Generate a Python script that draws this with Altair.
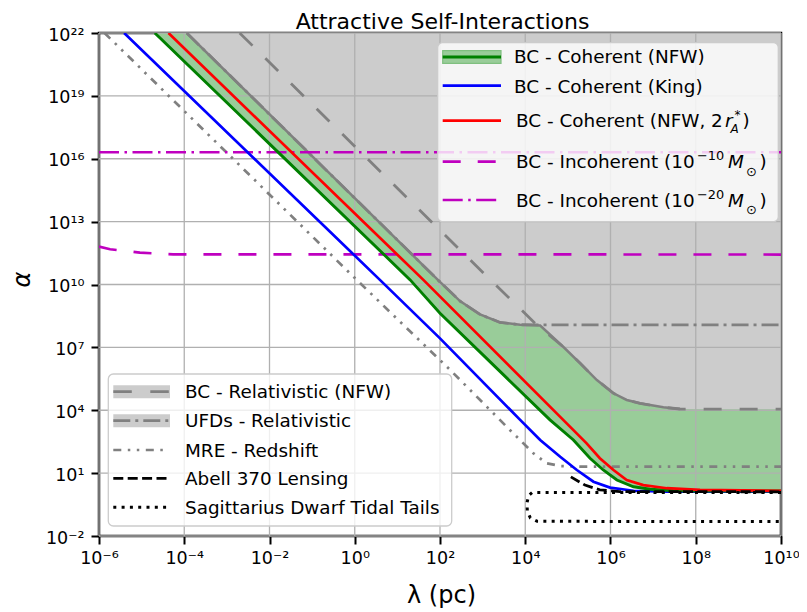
import altair as alt
import pandas as pd

FONT = "DejaVu Sans"
W, H = 682, 503
OX, OY = 99, 33  # plot-area origin on the page (for legend layout only)

# ---------------- data: log10(lambda [pc]) and log10(alpha) -------------
green_lx = [-4.69, 1.30, 2.00, 4.58, 5.13, 5.52, 5.83, 6.15, 6.54, 6.93, 7.47, 8.10, 10.0]
green_la = [22.0, 10.22, 8.63, 3.54, 2.58, 1.71, 1.15, 0.67, 0.35, 0.23, 0.16, 0.15, 0.15]

red_lx = [-4.37, 1.61, 4.89, 5.44, 5.75, 6.07, 6.38, 6.77, 7.32, 8.10, 10.0]
red_la = [22.0, 10.22, 3.54, 2.42, 1.71, 1.15, 0.67, 0.43, 0.28, 0.20, 0.15]

blue_lx = [-5.41, 0.59, 2.00, 3.88, 4.35, 4.82, 5.21, 5.60, 5.99, 6.54, 7.32, 10.0]
blue_la = [22.0, 10.22, 7.43, 3.54, 2.58, 1.78, 1.15, 0.59, 0.31, 0.16, 0.12, 0.12]

mre_lx = [-5.87, -0.03, 2.24, 3.64, 4.19, 4.50, 4.82, 5.28, 10.0]
mre_la = [22.0, 10.37, 5.92, 3.06, 1.95, 1.47, 1.34, 1.31, 1.31]

ufd_lx = [-3.94, 1.95, 2.47, 2.94, 3.41, 3.88, 4.35, 10.0]
ufd_la = [22.0, 10.22, 9.21, 8.57, 8.19, 8.08, 8.07, 8.07]

bcr_lx = [-2.70, 3.17, 4.27, 4.89, 5.29, 5.68, 6.07, 6.38, 6.69, 7.24, 7.63, 8.26, 10.0]
bcr_la = [22.0, 10.25, 8.07, 7.03, 6.24, 5.44, 4.81, 4.49, 4.33, 4.14, 4.06, 4.05, 4.05]

# lower edge of the excluded (grey) region
env_lx = [-3.94, 1.95, 2.47, 2.94, 3.41, 3.88, 4.35, 4.89, 5.29, 5.68, 6.07, 6.38, 6.69, 7.24, 7.63, 8.26, 10.0]
env_la = [22.0, 10.22, 9.21, 8.57, 8.19, 8.08, 8.04, 7.03, 6.24, 5.44, 4.81, 4.49, 4.33, 4.14, 4.06, 4.05, 4.05]

inc10_lx = [-6.0, -5.74, -5.04, -4.26, 10.0]
inc10_la = [11.81, 11.68, 11.52, 11.44, 11.43]

inc20_lx = [-6.0, 10.0]
inc20_la = [16.31, 16.31]

abell_lx = [5.07, 5.40, 5.75, 6.22, 10.0]
abell_la = [0.82, 0.43, 0.20, 0.12, 0.11]

sag_lx = [10.0, 4.16, 4.08, 4.04, 4.05, 4.12, 4.28, 10.0]
sag_la = [0.07, 0.07, -0.07, -0.43, -0.84, -1.14, -1.30, -1.31]

x_tick_exps = [-6, -4, -2, 0, 2, 4, 6, 8, 10]
y_tick_exps = [-2, 1, 4, 7, 10, 13, 16, 19, 22]

title_text = "Attractive Self-Interactions"
x_title = "λ (pc)"
y_title = "α"

# ---------------- helpers ----------------
SUP = str.maketrans("-0123456789", "⁻⁰¹²³⁴⁵⁶⁷⁸⁹")


def tick_label(e):
    return "10" + str(e).translate(SUP)


def label_expr(exps):
    step = exps[1] - exps[0]
    arr = "[" + ",".join("'" + tick_label(e) + "'" for e in exps) + "]"
    return f"{arr}[round((round(log(datum.value)/LN10) - ({exps[0]}))/{step})]"


def frame(lx, la):
    return pd.DataFrame({
        "lam": [10.0 ** v for v in lx],
        "alpha": [10.0 ** v for v in la],
        "order": list(range(len(lx))),
    })


xs = alt.Scale(type="log", domain=[1e-6, 1e10], nice=False)
ys = alt.Scale(type="log", domain=[1e-2, 1e22], nice=False)

xax = alt.Axis(
    values=[10.0 ** e for e in x_tick_exps], labelExpr=label_expr(x_tick_exps),
    grid=False, domain=False, tickColor="black", tickWidth=2, tickSize=8,
    labelFont=FONT, labelFontSize=17.5, labelColor="black", labelPadding=5,
    labelFlush=False, labelOverlap=False,
    title=x_title, titleFont=FONT, titleFontSize=24, titleFontWeight="normal",
    titleColor="black", titleX=342, titleY=66, titleAlign="center",
    titleBaseline="alphabetic",
)
yax = alt.Axis(
    values=[10.0 ** e for e in y_tick_exps], labelExpr=label_expr(y_tick_exps),
    grid=False, domain=False, tickColor="black", tickWidth=2, tickSize=8,
    labelFont=FONT, labelFontSize=17.5, labelColor="black", labelPadding=7,
    labelFlush=False, labelOverlap=False, labelBaseline="middle", labelOffset=2,
    title=y_title, titleFont=FONT, titleFontSize=24, titleFontWeight="normal",
    titleFontStyle="italic", titleColor="black", titleAngle=270,
    titleX=-77, titleY=246, titleAlign="center", titleBaseline="middle",
)


def X():
    return alt.X("lam:Q", scale=xs, axis=xax)


def Y():
    return alt.Y("alpha:Q", scale=ys, axis=yax)


def line(lx, la, color, width=2.7, dash=None, maxlam=None):
    kw = dict(color=color, strokeWidth=width, clip=True, strokeCap="butt")
    if dash:
        kw["strokeDash"] = dash
    ch = alt.Chart(frame(lx, la)).mark_line(**kw).encode(x=X(), y=Y(), order="order:Q")
    if maxlam is not None:
        ch = ch.transform_filter(alt.datum.lam <= maxlam)
    return ch


def area(lx, la, color):
    return alt.Chart(frame(lx, la)).mark_area(color=color, opacity=1, clip=True).encode(
        x=X(), y=Y(), y2=alt.datum(1e22))


dummy = pd.DataFrame({"d": [0]})


def ltext(txt, x, y, size=18.4, style="normal"):
    return alt.Chart(dummy).mark_text(
        text=txt, font=FONT, fontSize=size, fontStyle=style, align="left",
        baseline="alphabetic", color="black").encode(
        x=alt.value(x - OX), y=alt.value(y - OY))


def lrule(x1, x2, y, color, width=2.7, dash=None):
    kw = dict(color=color, strokeWidth=width, strokeCap="butt")
    if dash:
        kw["strokeDash"] = dash
    return alt.Chart(dummy).mark_rule(**kw).encode(
        x=alt.value(x1 - OX), x2=alt.value(x2 - OX), y=alt.value(y - OY))


def lrect(x1, x2, y1, y2, fill, stroke=None, sw=0, opacity=1.0, radius=0):
    kw = dict(fill=fill, fillOpacity=opacity, cornerRadius=radius)
    if stroke:
        kw.update(stroke=stroke, strokeWidth=sw)
    return alt.Chart(dummy).mark_rect(**kw).encode(
        x=alt.value(x1 - OX), x2=alt.value(x2 - OX), y=alt.value(y1 - OY), y2=alt.value(y2 - OY))


# ---------------- layers ----------------
GREEN_FILL = "#99cc99"
GREY_FILL = "#cccccc"
GREY = "#808080"
MAG = "#bf00bf"

layers = []
layers.append(area(green_lx, green_la, GREEN_FILL))
layers.append(area(env_lx, env_la, GREY_FILL))

# grid lines above the fills, below the curves
gx = pd.DataFrame({"lam": [10.0 ** e for e in x_tick_exps]})
gy = pd.DataFrame({"alpha": [10.0 ** e for e in y_tick_exps]})
layers.append(alt.Chart(gx).mark_rule(color="#b0b0b0", strokeWidth=1.3).encode(x=X()))
layers.append(alt.Chart(gy).mark_rule(color="#b0b0b0", strokeWidth=1.3).encode(y=Y()))

layers.append(line(env_lx, env_la, GREY, 2.5, maxlam=10 ** 7.7))
layers.append(line(ufd_lx, ufd_la, GREY, 2.8, [17, 5, 3, 5]))
layers.append(line(bcr_lx, bcr_la, GREY, 2.8, [18, 18]))
layers.append(line(mre_lx, mre_la, GREY, 2.7, [8, 6.5, 2.5, 6.5, 2.5, 6.5]))
layers.append(line(inc10_lx, inc10_la, MAG, 2.7, [18, 17]))
layers.append(line(inc20_lx, inc20_la, MAG, 2.7, [20, 5.5, 2.5, 5.5]))
layers.append(line(blue_lx, blue_la, "#0000ff", 2.7))
layers.append(line(green_lx, green_la, "#008000", 2.9))
layers.append(line(red_lx, red_la, "#ff0000", 2.7))
layers.append(line(abell_lx, abell_la, "black", 2.8, [10, 4.4]))
layers.append(line(sag_lx, sag_la, "black", 3.0, [3, 5.3]))

# title
layers.append(alt.Chart(dummy).mark_text(
    text=title_text, font=FONT, fontSize=22, align="center", baseline="alphabetic",
    color="black").encode(x=alt.value(442.5 - OX), y=alt.value(29 - OY)))

# ---------------- legend 1 (upper right) ----------------
layers.append(lrect(437.7, 778.3, 42.7, 221.7, "white", "#cccccc", 1.3, 0.8, 5))
layers.append(lrect(442.7, 501, 50.7, 63.3, GREEN_FILL, "#7fbf7f", 1.2))
layers.append(lrule(442.7, 501, 57, "#008000", 2.9))
layers.append(ltext("BC - Coherent (NFW)", 514, 63.3))
layers.append(lrule(442.7, 501, 85.7, "#0000ff", 2.7))
layers.append(ltext("BC - Coherent (King)", 514, 92.7))
layers.append(lrule(442.7, 501, 120.7, "#ff0000", 2.7))
layers.append(ltext("BC - Coherent (NFW, 2", 516, 127.3))
layers.append(ltext("r", 725, 127.3, style="italic"))
layers.append(ltext("*", 734.5, 118.5, size=12))
layers.append(ltext("A", 730.5, 133, size=12, style="italic"))
layers.append(ltext(")", 742.5, 127.3))
layers.append(lrule(442.7, 501, 161.7, MAG, 2.7, [18, 17]))
layers.append(ltext("BC - Incoherent (10", 516, 168.3))
layers.append(ltext("−10", 697, 160.3, size=12.9))
layers.append(ltext("M", 728, 168.3, style="italic"))
layers.append(ltext("⊙", 746, 175.5, size=12.9))
layers.append(ltext(")", 759.5, 168.3))
layers.append(lrule(442.7, 501, 200, MAG, 2.7, [20, 5.5, 2.5, 5.5]))
layers.append(ltext("BC - Incoherent (10", 516, 206.7))
layers.append(ltext("−20", 697, 198.7, size=12.9))
layers.append(ltext("M", 728, 206.7, style="italic"))
layers.append(ltext("⊙", 746, 213.9, size=12.9))
layers.append(ltext(")", 759.5, 206.7))

# ---------------- legend 2 (lower left) ----------------
layers.append(lrect(108.3, 451.7, 374, 526, "white", "#cccccc", 1.3, 0.8, 5))
layers.append(lrect(113.3, 170, 385.2, 398.2, GREY_FILL))
layers.append(lrule(113.3, 170, 391.7, GREY, 2.8, [18.5, 18.5]))
layers.append(ltext("BC - Relativistic (NFW)", 185, 398.3))
layers.append(lrect(113.3, 170, 414.2, 427.2, GREY_FILL))
layers.append(lrule(113.3, 170, 420.7, GREY, 2.8, [17, 5, 3, 5]))
layers.append(ltext("UFDs - Relativistic", 185, 427.3))
layers.append(lrule(113.3, 168.3, 450, GREY, 2.7, [8, 6.5, 2.5, 6.5, 2.5, 6.5]))
layers.append(ltext("MRE - Redshift", 185, 456.7))
layers.append(lrule(113.3, 168.3, 478.3, "black", 2.8, [10, 4.4]))
layers.append(ltext("Abell 370 Lensing", 185, 485))
layers.append(lrule(113.3, 168.3, 507.3, "black", 3.0, [3, 5.3]))
layers.append(ltext("Sagittarius Dwarf Tidal Tails", 185, 514))

chart = alt.layer(*layers).properties(
    width=W, height=H,
    padding={"left": 91, "top": 25, "right": 18, "bottom": 75},
    autosize=alt.AutoSizeParams(type="none"),
).configure_view(stroke="black", strokeWidth=2.5)

chart.save("out.html", embed_options={"renderer": "svg", "actions": False})
